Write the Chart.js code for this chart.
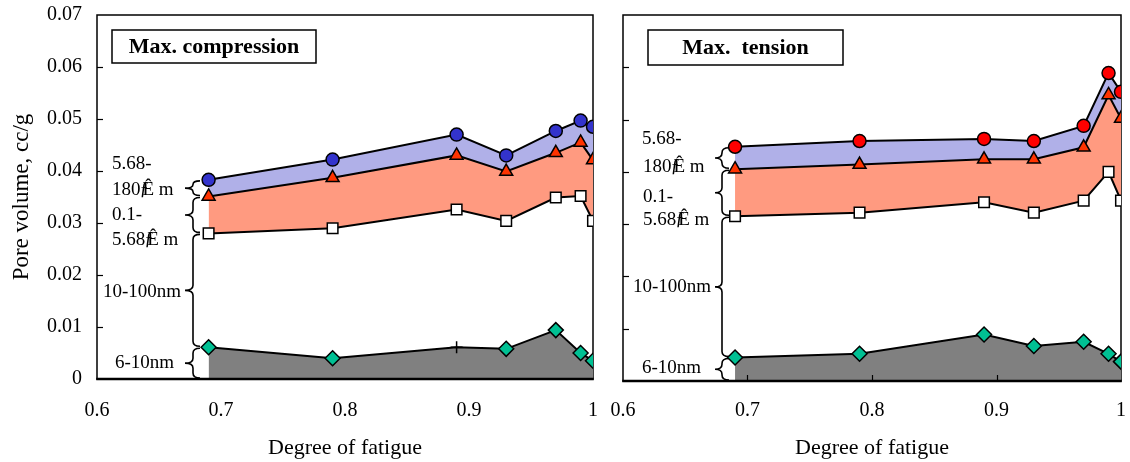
<!DOCTYPE html>
<html><head><meta charset="utf-8">
<script src="https://cdn.jsdelivr.net/npm/chart.js@4.4.1/dist/chart.umd.min.js"></script>
<style>
html,body{margin:0;padding:0;background:#fff;}
#wrap{position:relative;width:1130px;height:462px;overflow:hidden;}
#c1{position:absolute;left:0;top:0;}
#c2{position:absolute;left:605px;top:0;}
</style></head><body>
<div id="wrap"><canvas id="c1" width="605" height="462"></canvas><canvas id="c2" width="525" height="462"></canvas></div>
<script>
// ---- data ----
const fatigue = [0.69, 0.79, 0.89, 0.93, 0.97, 0.99, 1.0];
const compCircles   = [0.0383, 0.0422, 0.0470, 0.0430, 0.0477, 0.0497, 0.0485];
const compTriangles = [0.0351, 0.0387, 0.0430, 0.0399, 0.0435, 0.0455, 0.0421];
const compSquares   = [0.0280, 0.0290, 0.0326, 0.0304, 0.0349, 0.0352, 0.0304];
const compDiamonds  = [0.0061, 0.0040, 0.0061, 0.0058, 0.0094, 0.0050, 0.0035];
const tensCircles   = [0.0448, 0.0459, 0.0463, 0.0459, 0.0488, 0.0589, 0.0553];
const tensTriangles = [0.0405, 0.0414, 0.0424, 0.0424, 0.0447, 0.0547, 0.0502];
const tensSquares   = [0.0315, 0.0322, 0.0342, 0.0322, 0.0345, 0.0400, 0.0345];
const tensDiamonds  = [0.0045, 0.0052, 0.0089, 0.0067, 0.0075, 0.0052, 0.0037];
const yTickLabels = ['0', '0.01', '0.02', '0.03', '0.04', '0.05', '0.06', '0.07'];
const xTickLabels = ['0.6', '0.7', '0.8', '0.9', '1'];
const rangeLabels = ['5.68-', '180ƒÊ m', '0.1-', '5.68ƒÊ m', '10-100nm', '6-10nm'];

Chart.defaults.font.family = "'Liberation Serif', 'Times New Roman', serif";
Chart.defaults.color = '#000';

const SERIF = "'Liberation Serif', 'Times New Roman', serif";

function drawMuText(ctx, text, x, y) {
  const i = text.indexOf('ƒ');
  if (i < 0) { ctx.fillText(text, x, y); return; }
  const pre = text.slice(0, i);
  ctx.fillText(pre, x, y);
  const w = ctx.measureText(pre).width;
  ctx.fillText('ƒ', x + w - 1, y);
  ctx.fillText(text.slice(i + 1), x + w + 2, y);
}

function brace(ctx, bx, y1, y2, tipX, hookX) {
  const mid = (y1 + y2) / 2;
  const r = Math.min(5, (y2 - y1) / 4);
  ctx.beginPath();
  ctx.moveTo(hookX, y1);
  ctx.quadraticCurveTo(bx, y1, bx, y1 + r);
  ctx.lineTo(bx, mid - r);
  ctx.quadraticCurveTo(bx, mid, tipX, mid);
  ctx.quadraticCurveTo(bx, mid, bx, mid + r);
  ctx.lineTo(bx, y2 - r);
  ctx.quadraticCurveTo(bx, y2, hookX, y2);
  ctx.stroke();
}

const decor = {
  id: 'decor',
  beforeDatasetsDraw(chart, args, o) {
    const {ctx, chartArea: a, scales: {x, y}} = chart;
    ctx.save();
    ctx.strokeStyle = '#000';
    ctx.lineWidth = 1.5;
    ctx.strokeRect(a.left, a.top, a.right - a.left, a.bottom - a.top);
    ctx.lineWidth = 1.2;
    y.ticks.forEach(t => {
      if (t.value <= 0 || t.value >= 0.0699) return;
      const py = Math.round(y.getPixelForValue(t.value)) + 0.5;
      ctx.beginPath(); ctx.moveTo(a.left, py); ctx.lineTo(a.left + 6, py); ctx.stroke();
    });
    const b = o.titleBox;
    ctx.fillStyle = '#fff';
    ctx.fillRect(b.x, b.y, b.w, b.h);
    ctx.lineWidth = 1.5;
    ctx.strokeRect(b.x, b.y, b.w, b.h);
    ctx.fillStyle = '#000';
    ctx.font = 'bold 22px ' + SERIF;
    ctx.textAlign = 'center';
    ctx.textBaseline = 'middle';
    ctx.fillText(o.title, b.x + b.w / 2, b.y + b.h / 2 + 1);
    ctx.font = '19px ' + SERIF;
    ctx.textAlign = 'left';
    o.labelPos.forEach((p, i) => drawMuText(ctx, rangeLabels[i], p[0], p[1]));
    const s = o.series;
    const yc = y.getPixelForValue(s.circles[0]);
    const yt = y.getPixelForValue(s.triangles[0]);
    const ys = y.getPixelForValue(s.squares[0]);
    const yd = y.getPixelForValue(s.diamonds[0]);
    const y0 = y.getPixelForValue(0);
    ctx.lineWidth = 1.6;
    const br = o.brace;
    [[yc, yt], [yt, ys], [ys, yd], [yd, y0]].forEach(([p, q]) => brace(ctx, br.bx, p + 1, q - 1, br.tip, br.hook));
    ctx.restore();
  },
  afterDatasetsDraw(chart, args, o) {
    const {ctx, chartArea: a, scales: {x}} = chart;
    ctx.save();
    ctx.strokeStyle = '#000';
    if (o.xTicks) {
      ctx.lineWidth = 1.2;
      x.ticks.forEach(t => {
        if (t.value <= 0.6001 || t.value >= 0.9999) return;
        const px = Math.round(x.getPixelForValue(t.value)) + 0.5;
        ctx.beginPath(); ctx.moveTo(px, a.bottom); ctx.lineTo(px, a.bottom - 6); ctx.stroke();
      });
    }
    ctx.lineWidth = 2.5;
    ctx.beginPath(); ctx.moveTo(a.left - 0.75, a.bottom); ctx.lineTo(a.right + 0.75, a.bottom); ctx.stroke();
    ctx.restore();
  }
};

function pts(ys) { return fatigue.map((v, i) => ({x: v, y: ys[i]})); }

function makePanel(id, s, cfg) {
  const diamondStyles = fatigue.map((_, i) => (cfg.crossIndex === i ? 'cross' : 'rectRot'));
  const diamondRadius = fatigue.map((_, i) => (cfg.crossIndex === i ? 6 : 7.5));
  return new Chart(document.getElementById(id), {
    type: 'line',
    data: {
      datasets: [
        {label: '6-10nm', data: pts(s.diamonds), borderColor: '#000', borderWidth: 2,
          backgroundColor: '#808080', fill: 'origin', tension: 0,
          pointStyle: diamondStyles, pointRadius: diamondRadius, pointBackgroundColor: '#00C093',
          pointBorderColor: '#000', pointBorderWidth: 1.5},
        {label: '10-100nm', data: pts(s.squares), borderColor: '#000', borderWidth: 2,
          fill: false, tension: 0,
          pointStyle: 'rect', pointRadius: 7.5, pointBackgroundColor: '#fff',
          pointBorderColor: '#000', pointBorderWidth: 1.5},
        {label: '0.1-5.68', data: pts(s.triangles), borderColor: '#000', borderWidth: 2,
          backgroundColor: '#FF9A80', fill: '-1', tension: 0,
          pointStyle: 'triangle', pointRadius: 7.5, pointBackgroundColor: '#FF3300',
          pointBorderColor: '#000', pointBorderWidth: 1.5},
        {label: '5.68-180', data: pts(s.circles), borderColor: '#000', borderWidth: 2,
          backgroundColor: '#B0B0E8', fill: '-1', tension: 0,
          pointStyle: 'circle', pointRadius: 6.5, pointBackgroundColor: cfg.circleColor,
          pointBorderColor: '#000', pointBorderWidth: 1.5}
      ]
    },
    options: {
      responsive: false,
      animation: false,
      events: [],
      layout: {padding: cfg.padding},
      plugins: {
        legend: {display: false},
        tooltip: {enabled: false},
        decor: {title: cfg.title, titleBox: cfg.titleBox, labelPos: cfg.labelPos,
          brace: cfg.brace, series: s, xTicks: cfg.xTicks}
      },
      scales: {
        x: {
          type: 'linear', min: 0.6, max: 1.0,
          grid: {display: false, drawTicks: false},
          border: {display: false},
          ticks: {stepSize: 0.1, padding: cfg.xPad, font: {size: 20},
            callback: v => xTickLabels[Math.round((v - 0.6) * 10)]},
          title: {display: true, text: 'Degree of fatigue', font: {size: 22}, padding: {top: 0, bottom: 1}},
          afterFit: sc => { sc.height = cfg.xHeight; sc.paddingLeft = 0; sc.paddingRight = 0; }
        },
        y: {
          type: 'linear', min: 0, max: 0.07,
          grid: {display: false, drawTicks: false},
          border: {display: false},
          ticks: {display: cfg.yLabels, stepSize: 0.01, padding: 15, font: {size: 20},
            callback: v => yTickLabels[Math.round(v * 100)]},
          title: {display: cfg.yLabels, text: 'Pore volume, cc/g', font: {size: 23}, padding: {top: 8, bottom: 0}},
          afterFit: sc => { sc.width = cfg.yWidth; sc.paddingTop = 0; sc.paddingBottom = 0; }
        }
      }
    },
    plugins: [decor]
  });
}

makePanel('c1', {circles: compCircles, triangles: compTriangles, squares: compSquares, diamonds: compDiamonds}, {
  circleColor: '#3333CC', crossIndex: 2, title: 'Max. compression',
  titleBox: {x: 112, y: 30, w: 204, h: 33},
  labelPos: [[112, 164], [112, 190], [112, 215], [112, 240], [103, 292], [115, 363]],
  brace: {bx: 193, tip: 185, hook: 200},
  padding: {left: 0, right: 12, top: 15, bottom: 0},
  yWidth: 97, xHeight: 83, xPad: 20, yLabels: true, xTicks: false
});

makePanel('c2', {circles: tensCircles, triangles: tensTriangles, squares: tensSquares, diamonds: tensDiamonds}, {
  circleColor: '#FF0000', crossIndex: -1, title: 'Max.  tension',
  titleBox: {x: 43, y: 30, w: 195, h: 35},
  labelPos: [[37, 139], [38, 167], [38, 197], [38, 220], [28, 287], [37, 368]],
  brace: {bx: 117, tip: 110, hook: 124},
  padding: {left: 0, right: 9, top: 15, bottom: 0},
  yWidth: 18, xHeight: 81, xPad: 18, yLabels: false, xTicks: true
});
</script>
</body></html>
